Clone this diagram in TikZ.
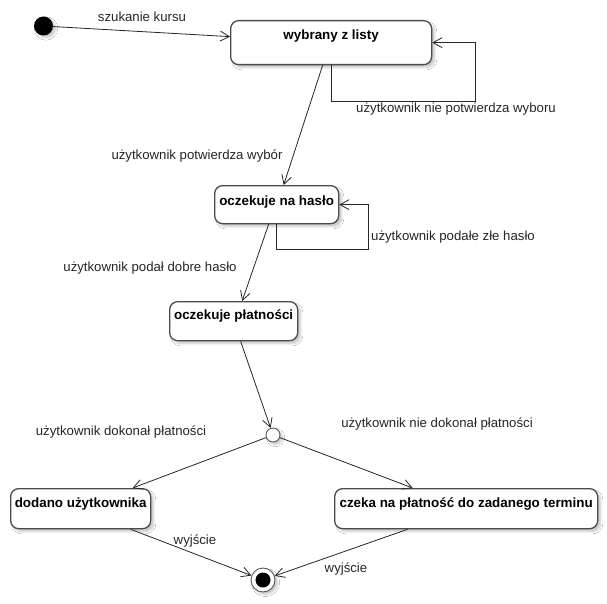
\documentclass[tikz,border=0pt]{standalone}
\usepackage{fontspec}
\setmainfont{Liberation Sans}
\usetikzlibrary{arrows.meta,shadows.blur}

\tikzset{
  state/.style={draw=black!70, line width=1.3pt, rounded corners=8pt, fill=white,
    anchor=north west, inner xsep=0pt, inner ysep=0pt, align=center,
    font=\fontsize{13.4}{16}\selectfont\bfseries,
    blur shadow={shadow xshift=3pt, shadow yshift=-3pt, shadow blur steps=6, shadow opacity=22}},
  conn/.style={draw=black!85, line width=0.8pt,
    -{Straight Barb[length=9pt, width=10pt, line width=0.8pt]}},
  lbl/.style={font=\fontsize{13.2}{16}\selectfont, text=black!85,
    text height=9.5pt, text depth=2.8pt, inner sep=0pt},
  pseudo/.style={circle, inner sep=0pt,
    blur shadow={shadow xshift=2.5pt, shadow yshift=-2.5pt, shadow blur steps=5, shadow opacity=22}}
}

\begin{document}
\begin{tikzpicture}[x=1pt, y=-1pt]
  \useasboundingbox[fill=white] (0,0) rectangle (607,604);

  % states
  \node[state, minimum width=201pt, text height=19pt, text depth=25pt] (b1) at (230,20) {wybrany z listy};
  \node[state, minimum width=124pt, text height=20pt, text depth=18pt] (b2) at (214,185) {oczekuje na hasło};
  \node[state, minimum width=128pt, text height=18pt, text depth=21pt] (b3) at (169,301) {oczekuje płatności};
  \node[state, minimum width=140pt, text height=19pt, text depth=21pt] (b4) at (10,488) {dodano użytkownika};
  \node[state, minimum width=263pt, text height=19pt, text depth=21pt] (b5) at (334,488) {czeka na płatność do zadanego terminu};

  % pseudo states
  \node[pseudo, fill=black, minimum size=19pt] (init) at (43.5,26) {};
  \node[pseudo, draw=black!65, line width=0.9pt, fill=white, minimum size=14pt] (dec) at (273,435) {};
  \node[pseudo, draw=black!65, line width=0.9pt, fill=white, minimum size=24pt] (fin) at (263,580) {};
  \node[circle, fill=black, inner sep=0pt, minimum size=15pt] (fincore) at (fin.center) {};

  % transitions
  \draw[conn] (init) -- ([yshift=6pt]b1.west);
  \draw[conn] (b1.south) |- ++(144,36) |- (b1.east);
  \draw[conn] ([xshift=-8.5pt]b1.south) -- ([xshift=7pt]b2.north);
  \draw[conn] (b2.south) |- ++(92,25) |- (b2.east);
  \draw[conn] ([xshift=-8pt]b2.south) -- ([xshift=8.5pt]b3.north);
  \draw[conn] ([xshift=7pt]b3.south) -- (dec);
  \draw[conn] (dec) -- ([xshift=52pt]b4.north);
  \draw[conn] (dec) -- ([xshift=-53.5pt]b5.north);
  \draw[conn] ([xshift=50pt]b4.south) -- (fin);
  \draw[conn] ([xshift=-58.5pt]b5.south) -- (fin);

  % transition labels
  \node[lbl] (l1) at (142,18) {szukanie kursu};
  \node[lbl] (l2) at (456,109) {użytkownik nie potwierdza wyboru};
  \node[lbl] (l3) at (197,156) {użytkownik potwierdza wybór};
  \node[lbl] (l4) at (453,237) {użytkownik podałe złe hasło};
  \node[lbl] (l5) at (150,268) {użytkownik podał dobre hasło};
  \node[lbl] (l6) at (121,432) {użytkownik dokonał płatności};
  \node[lbl] (l7) at (437,424) {użytkownik nie dokonał płatności};
  \node[lbl] (l8) at (195,541) {wyjście};
  \node[lbl] (l9) at (346,569) {wyjście};
\end{tikzpicture}
\end{document}
